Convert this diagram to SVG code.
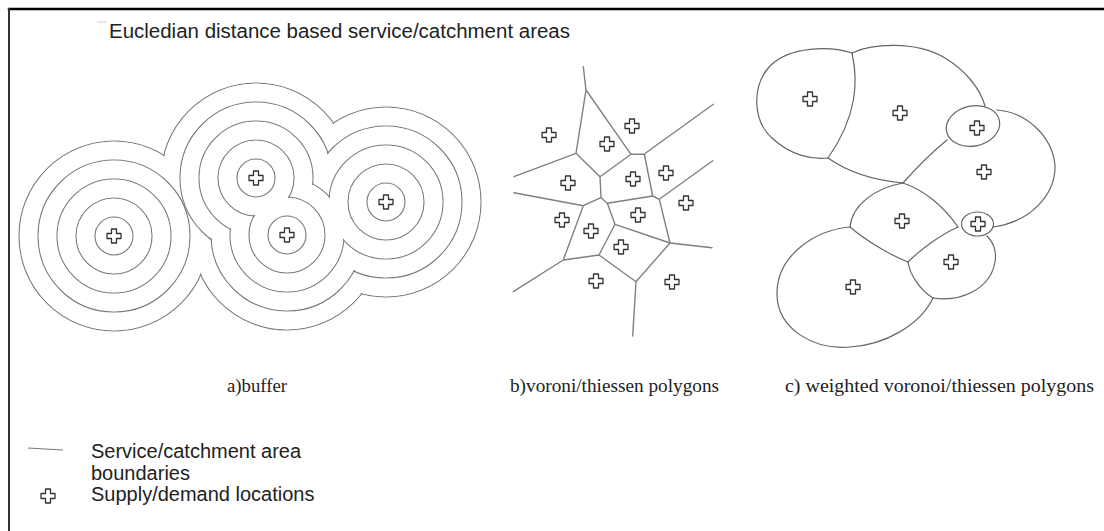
<svg xmlns="http://www.w3.org/2000/svg" width="1104" height="531" viewBox="0 0 1104 531">
<style>
.buf{fill:none;stroke:#7a7a7a;stroke-width:1.1}
.wht{fill:#fff;stroke:none}
.vor{fill:none;stroke:#808080;stroke-width:1.4;stroke-linecap:round;stroke-linejoin:round}
.wv{fill:none;stroke:#666;stroke-width:1.2;stroke-linecap:round}
.lbl{font-family:"Liberation Serif","Times New Roman",serif;font-size:18px;fill:#222}
.txt{font-family:"Liberation Sans",Arial,sans-serif;font-size:20px;fill:#222}
</style>
<defs>
<path id="plus" d="M-2.5,-7 H2.5 V-2.5 H7 V2.5 H2.5 V7 H-2.5 V2.5 H-7 V-2.5 H-2.5 Z" fill="#fff" stroke="#333" stroke-width="1.3" stroke-linejoin="round"/>
</defs>
<rect width="1104" height="531" fill="#fff"/>
<g id="frame" stroke-linecap="square">
<line x1="9" y1="9" x2="1104" y2="9" stroke="#000" stroke-width="2.5"/>
<line x1="9" y1="9" x2="9" y2="531" stroke="#333" stroke-width="2"/>
</g>
<g id="title">
<line x1="97" y1="22" x2="107" y2="22" stroke="#ccc" stroke-width="1"/>
<text class="txt" x="109" y="38" textLength="461" lengthAdjust="spacingAndGlyphs">Eucledian distance  based service/catchment areas</text>
</g>
<g id="buffer">
<g class="buf"><circle cx="114" cy="236" r="95"/><circle cx="256" cy="178" r="95"/><circle cx="287" cy="235" r="95"/><circle cx="386" cy="202" r="95"/></g>
<g class="wht"><circle cx="114" cy="236" r="94.2"/><circle cx="256" cy="178" r="94.2"/><circle cx="287" cy="235" r="94.2"/><circle cx="386" cy="202" r="94.2"/></g>
<g class="buf"><circle cx="114" cy="236" r="76"/><circle cx="256" cy="178" r="76"/><circle cx="287" cy="235" r="76"/><circle cx="386" cy="202" r="76"/></g>
<g class="wht"><circle cx="114" cy="236" r="75.2"/><circle cx="256" cy="178" r="75.2"/><circle cx="287" cy="235" r="75.2"/><circle cx="386" cy="202" r="75.2"/></g>
<g class="buf"><circle cx="114" cy="236" r="57"/><circle cx="256" cy="178" r="57"/><circle cx="287" cy="235" r="57"/><circle cx="386" cy="202" r="57"/></g>
<g class="wht"><circle cx="114" cy="236" r="56.2"/><circle cx="256" cy="178" r="56.2"/><circle cx="287" cy="235" r="56.2"/><circle cx="386" cy="202" r="56.2"/></g>
<g class="buf"><circle cx="114" cy="236" r="38"/><circle cx="256" cy="178" r="38"/><circle cx="287" cy="235" r="38"/><circle cx="386" cy="202" r="38"/></g>
<g class="wht"><circle cx="114" cy="236" r="37.2"/><circle cx="256" cy="178" r="37.2"/><circle cx="287" cy="235" r="37.2"/><circle cx="386" cy="202" r="37.2"/></g>
<g class="buf"><circle cx="114" cy="236" r="19"/><circle cx="256" cy="178" r="19"/><circle cx="287" cy="235" r="19"/><circle cx="386" cy="202" r="19"/></g>
<use href="#plus" x="114" y="236"/><use href="#plus" x="256" y="178"/><use href="#plus" x="287" y="235"/><use href="#plus" x="386" y="202"/>
<text class="lbl" x="227" y="392" textLength="60" lengthAdjust="spacingAndGlyphs">a)buffer</text>
</g>
<g id="voronoi">
<path class="vor" d="M583.3,66.7 L586,90 L576,153.3 M586,90 L631,154.3 L644.3,154 L713.3,104.3 M576,153.3 L600,176.7 L631,154.3 M576,153.3 L514,176.7 M600,176.7 L601,197.7 L583.3,205.7 L514,192.7 M601,197.7 L607.3,203.3 L652.7,196 L644.3,154 M652.7,196 L659.3,199.3 L712.7,160.7 M607.3,203.3 L615,224.3 L670,243 L659.3,199.3 M670,243 L712,247.7 M670,243 L636,281.7 L632.7,336 M583.3,205.7 L563.3,260 L599,255 L615,224.3 M599,255 L636,281.7 M563.3,260 L513.3,291.7"/>
<use href="#plus" x="549" y="135"/><use href="#plus" x="632" y="126"/><use href="#plus" x="607" y="144"/>
<use href="#plus" x="568" y="183"/><use href="#plus" x="633" y="179"/><use href="#plus" x="666" y="173"/>
<use href="#plus" x="686" y="203"/><use href="#plus" x="562" y="220"/><use href="#plus" x="638" y="215"/>
<use href="#plus" x="591" y="231"/><use href="#plus" x="621" y="247"/><use href="#plus" x="596" y="281"/>
<use href="#plus" x="672" y="282"/>
<text class="lbl" x="510" y="392" textLength="209" lengthAdjust="spacingAndGlyphs">b)voroni/thiessen polygons</text>
</g>
<g id="weighted">
<path class="wv" d="M852,53 C830,46 790,46 770,66 C752,85 752,120 772,138 C790,155 812,160 828,158"/>
<path class="wv" d="M852,53 C858,80 858,115 828,158"/>
<path class="wv" d="M852,53 C870,44 915,40 945,58 C965,70 980,88 985,106"/>
<path class="wv" d="M828,158 C845,170 870,180 903,183"/>
<path class="wv" d="M903,183 Q925,158 947,140"/>
<ellipse class="wv" cx="973" cy="126" rx="27" ry="20" transform="rotate(-12 973 126)"/>
<path class="wv" d="M997,110 C1025,112 1052,135 1055,165 C1056,195 1030,222 993,227"/>
<path class="wv" d="M850,227 C852,205 875,188 903,183"/>
<path class="wv" d="M903,183 C925,190 945,208 958,227"/>
<path class="wv" d="M850,227 C865,240 890,255 908,262"/>
<path class="wv" d="M908,262 C920,250 940,235 958,227"/>
<ellipse class="wv" cx="977.5" cy="224" rx="16" ry="12"/>
<path class="wv" d="M908,262 C910,275 920,290 933,298"/>
<path class="wv" d="M933,298 C960,302 990,290 995,262 C997,250 993,242 987,236"/>
<path class="wv" d="M850,227 C815,230 778,255 777,292 C776,330 815,350 850,347 C885,345 920,325 933,298"/>
<use href="#plus" x="810" y="99"/><use href="#plus" x="900" y="113"/><use href="#plus" x="977" y="128"/>
<use href="#plus" x="984" y="172"/><use href="#plus" x="902" y="221"/><use href="#plus" x="978" y="224"/>
<use href="#plus" x="951" y="262"/><use href="#plus" x="853" y="287"/>
<text class="lbl" x="785" y="392" textLength="309" lengthAdjust="spacingAndGlyphs">c) weighted  voronoi/thiessen polygons</text>
</g>
<g id="legend">
<line x1="28" y1="448" x2="63" y2="450" stroke="#777" stroke-width="1.2"/>
<text class="txt" x="91" y="458">Service/catchment area</text>
<text class="txt" x="91" y="480">boundaries</text>
<use href="#plus" x="48" y="496"/>
<text class="txt" x="91" y="501">Supply/demand locations</text>
</g>
</svg>
